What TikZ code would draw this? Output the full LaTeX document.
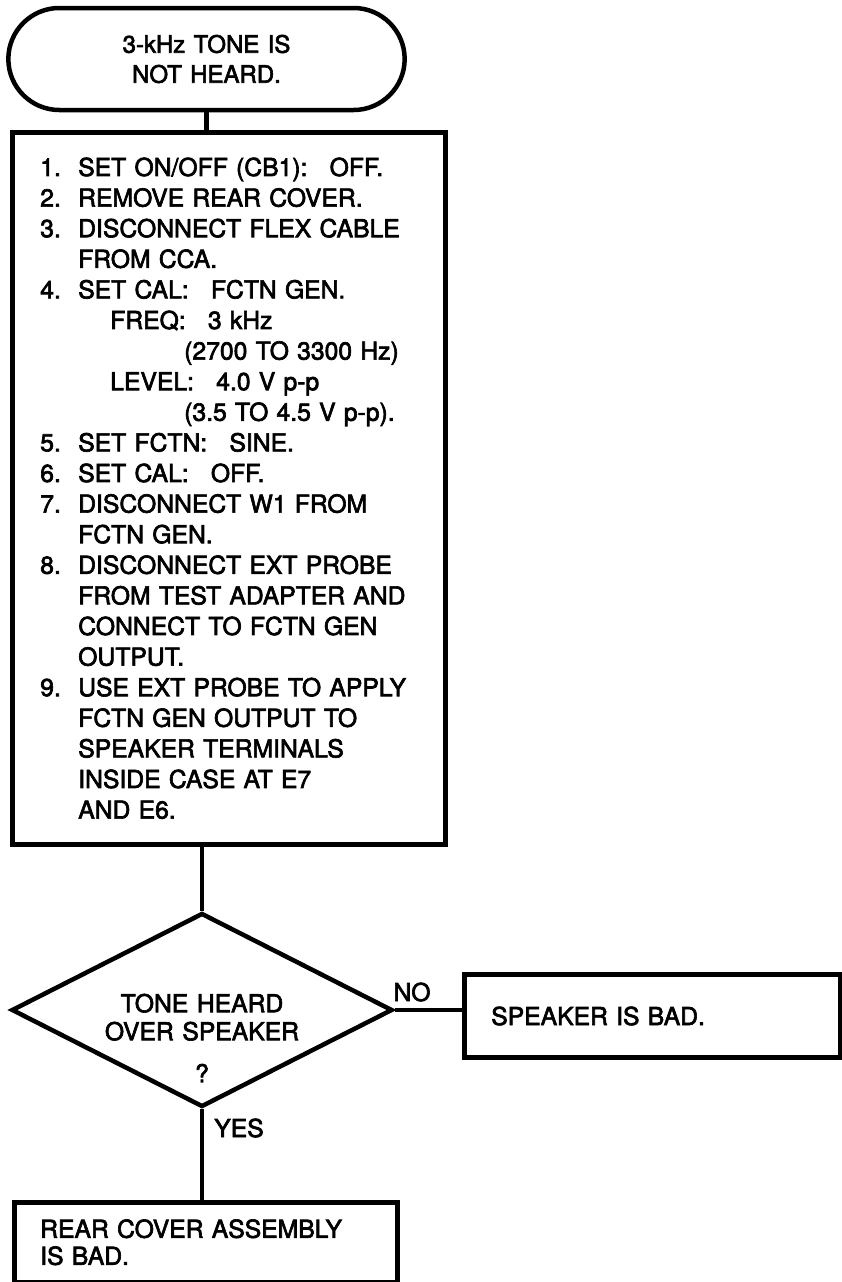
\documentclass[tikz,border=0pt]{standalone}
\usepackage{fontspec}
\setmainfont{TeX Gyre Heros}[FakeBold=2.6, WordSpace=1.25]
\usetikzlibrary{shapes.geometric,shapes.misc}
\newcommand{\num}[1]{\makebox[38pt][l]{#1}}
\newcommand{\ind}[1]{\hspace*{#1pt}}
\newcommand{\dsp}{\hspace{0.9em}}
\begin{document}
\begin{tikzpicture}[x=1pt,y=-1pt,line width=4.5pt,
  every node/.style={font=\fontsize{24.7}{30.6}\selectfont},
  flowbox/.style={draw, rectangle, line width=4.5pt, inner ysep=0pt},
  lbl/.style={inner sep=0pt}]
\useasboundingbox (0,0) rectangle (842,1282);
\node[draw, rounded rectangle, minimum width=403pt, minimum height=102pt, align=center,
      font=\fontsize{24}{30}\selectfont] (term) at (206.5,59) {3-kHz TONE IS\\NOT HEARD.};
\node[flowbox, anchor=north west, inner xsep=28pt, text width=377pt, minimum height=712pt, align=left] (steps) at (10,130) {%
\num{1.}SET ON/OFF (CB1):\dsp OFF.\\
\num{2.}REMOVE REAR COVER.\\
\num{3.}DISCONNECT FLEX CABLE\\
\ind{38}FROM CCA.\\
\num{4.}SET CAL:\dsp FCTN GEN.\\
\ind{70}FREQ:\dsp 3 kHz\\
\ind{144}(2700 TO 3300 Hz)\\
\ind{70}LEVEL:\dsp 4.0 V p-p\\
\ind{144}(3.5 TO 4.5 V p-p).\\
\num{5.}SET FCTN:\dsp SINE.\\
\num{6.}SET CAL:\dsp OFF.\\
\num{7.}DISCONNECT W1 FROM\\
\ind{38}FCTN GEN.\\
\num{8.}DISCONNECT EXT PROBE\\
\ind{38}FROM TEST ADAPTER AND\\
\ind{38}CONNECT TO FCTN GEN\\
\ind{38}OUTPUT.\\
\num{9.}USE EXT PROBE TO APPLY\\
\ind{38}FCTN GEN OUTPUT TO\\
\ind{38}SPEAKER TERMINALS\\
\ind{38}INSIDE CASE AT E7\\
\ind{38}AND E6.};
\node[draw, diamond, minimum width=381pt, minimum height=194pt, inner sep=0pt] (dia) at (202,1010) {};
\node[align=center, font=\fontsize{24.7}{28}\selectfont, lbl] (dtext) at (202,1038) {TONE HEARD\\OVER SPEAKER\\[14pt]?};
\node[flowbox, anchor=west, minimum height=83pt, inner xsep=27pt, text width=322pt, align=left] (spk) at (462,1016) {SPEAKER IS BAD.};
\node[flowbox, anchor=north west, minimum height=80pt, inner xsep=26pt, text width=331pt, align=left,
      font=\fontsize{24.7}{27}\selectfont] (rear) at (12,1200) {REAR COVER ASSEMBLY\\IS BAD.};
\node[lbl] (no) at (412,992) {NO};
\node[lbl] (yes) at (239,1128) {YES};
\draw (term.south) -- (term.south |- steps.north);
\draw (dia.north |- steps.south) -- (dia.north);
\draw (dia.east) -- (dia.east -| spk.west);
\draw (dia.south) -- (dia.south |- rear.north);
\end{tikzpicture}
\end{document}
